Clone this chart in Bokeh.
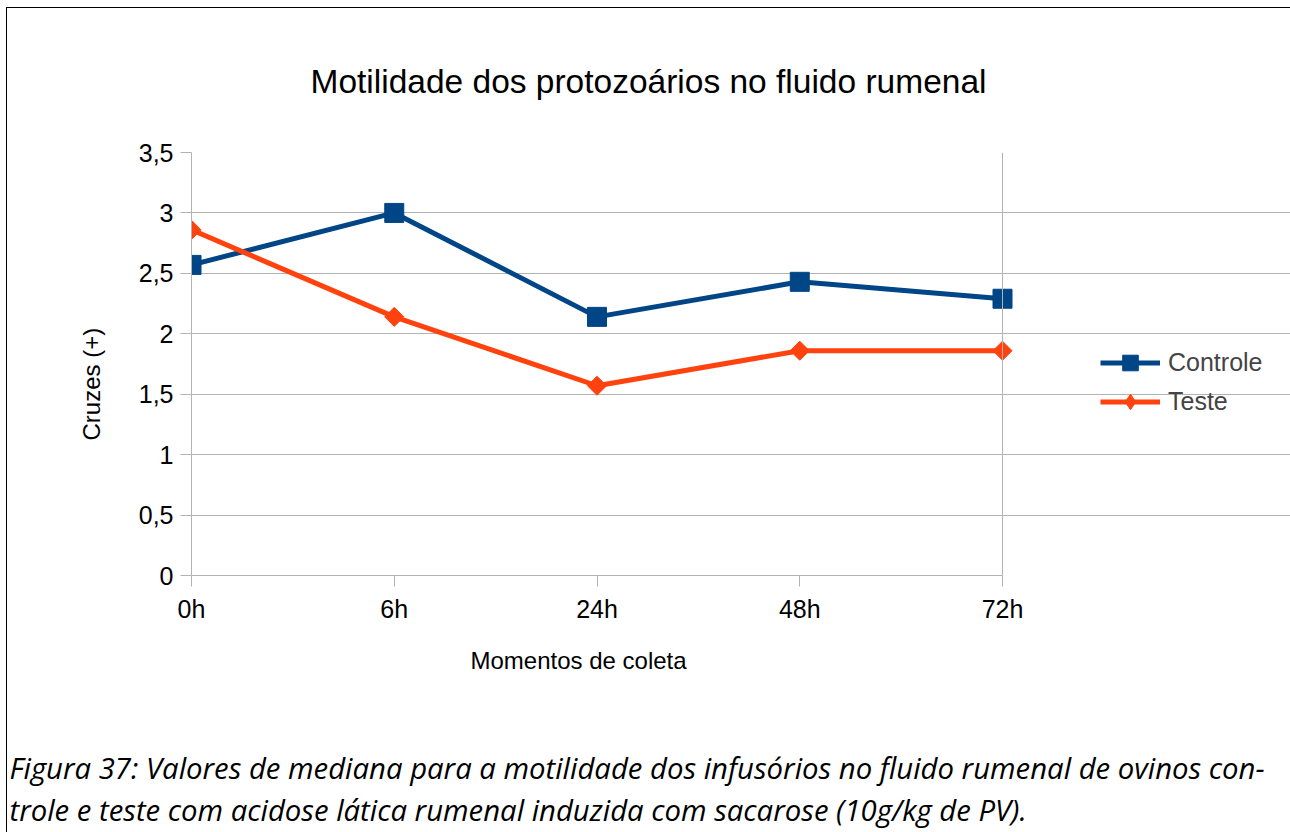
import numpy as np
from bokeh.plotting import figure
from bokeh.models import Range1d, Legend, LegendItem, FixedTicker, Title, Span
from bokeh.embed import file_html
from bokeh.resources import INLINE

categories = ["0h", "6h", "24h", "48h", "72h"]
controle = [2.57, 3.0, 2.14, 2.43, 2.29]
teste = [2.86, 2.14, 1.57, 1.86, 1.86]
y_ticks = [0.0, 0.5, 1.0, 1.5, 2.0, 2.5, 3.0, 3.5]
y_tick_labels = ["0", "0,5", "1", "1,5", "2", "2,5", "3", "3,5"]

title_text = "Motilidade dos protozoários no fluido rumenal"
x_label = "Momentos de coleta"
y_label = "Cruzes (+)"
caption_1 = "Figura 37: Valores de mediana para a motilidade dos infusórios no fluido rumenal de ovinos con-"
caption_2 = "trole e teste com acidose lática rumenal induzida com sacarose (10g/kg de PV)."

FONT = "Liberation Sans"
BLUE = "#004586"
ORANGE = "#ff420e"
GRAY = "#b3b3b3"

xs = list(range(len(categories)))
x_last = len(categories) - 1

# The plot frame runs to the right edge of the canvas so that the legend
# (drawn inside the frame) is not clipped; the data area itself ends at 72h.
W, H = 1290, 832
LEFT, TOP, BOTTOM = 191, 152, 257
DATA_W = 811
x_end = x_last * (W - LEFT) / DATA_W

p = figure(width=W, height=H,
           x_range=Range1d(0, x_end), y_range=Range1d(0, 3.5),
           output_backend="svg", toolbar_location=None,
           min_border_left=LEFT, min_border_right=0,
           min_border_top=TOP, min_border_bottom=BOTTOM)
p.border_fill_color = None
p.background_fill_color = "#ffffff"
p.styles = {
    "background": "linear-gradient(#000,#000) 6px 7px / 1px calc(100% - 7px) no-repeat, "
                  "linear-gradient(#000,#000) 6px 7px / calc(100% - 6px) 1px no-repeat, #ffffff"
}

p.outline_line_color = None
p.xgrid.visible = False
p.ygrid.grid_line_color = GRAY
p.ygrid.grid_line_width = 1
p.ygrid.bounds = (0, x_last)
p.add_layout(Span(location=x_last, dimension="height", line_color=GRAY, line_width=1))

p.xaxis.ticker = FixedTicker(ticks=xs)
p.xaxis.major_label_overrides = {i: c for i, c in zip(xs, categories)}
p.xaxis.bounds = (0, x_last)
p.yaxis.ticker = FixedTicker(ticks=y_ticks)
p.yaxis.major_label_overrides = {t: l for t, l in zip(y_ticks, y_tick_labels)}
for ax in (p.xaxis, p.yaxis):
    ax.axis_line_color = GRAY
    ax.major_tick_line_color = GRAY
    ax.minor_tick_line_color = None
    ax.major_tick_in = 0
    ax.major_tick_out = 11
    ax.major_label_text_font = FONT
    ax.major_label_text_font_size = "25px"
    ax.major_label_text_color = "#000000"
p.xaxis.major_label_standoff = 8
p.yaxis.major_label_standoff = 7

l1 = p.line(xs, controle, line_color=BLUE, line_width=5)
m1 = p.scatter(xs, controle, marker="square", size=19, fill_color=BLUE, line_color=BLUE)
l2 = p.line(xs, teste, line_color=ORANGE, line_width=5)
m2 = p.scatter(xs, teste, marker="square", angle=np.pi / 4, size=13.5,
               fill_color=ORANGE, line_color=ORANGE)
# legend key for the diamond marker (NaN point: nothing drawn in the chart)
m2_key = p.scatter([np.nan], [np.nan], marker="diamond", size=13,
                   fill_color=ORANGE, line_color=ORANGE)

legend = Legend(items=[LegendItem(label="Controle", renderers=[l1, m1]),
                       LegendItem(label="Teste", renderers=[l2, m2_key])],
                location=(909, 154), padding=0, margin=0, spacing=0,
                glyph_width=60, glyph_height=39, label_height=30,
                label_standoff=8, label_text_font=FONT,
                label_text_font_size="25px", label_text_baseline="middle",
                border_line_color=None, background_fill_alpha=0)
p.add_layout(legend, "center")

# chart title
p.title.text = title_text
p.title.align = "left"
p.title.offset = 119
p.title.standoff = 105
p.title.text_font = FONT
p.title.text_font_size = "33.5px"
p.title.text_font_style = "normal"
p.title.text_color = "#000000"

# y axis label (left panel, outside the axis)
p.add_layout(Title(text=y_label, align="left", offset=135, standoff=62,
                   text_font=FONT, text_font_size="24px",
                   text_font_style="normal", text_color="#000000"), "left")

# x axis label, a gap, and the figure caption (below panel, stacked outward)
p.add_layout(Title(text=x_label, align="left", offset=279, standoff=38,
                   text_font=FONT, text_font_size="24px",
                   text_font_style="normal", text_color="#000000"), "below")
p.add_layout(Title(text=" ", standoff=50, text_font_size="1px"), "below")
p.add_layout(Title(text=caption_1 + "\n" + caption_2, align="left", offset=-182,
                   standoff=0, text_font="Open Sans", text_font_size="29.3px",
                   text_font_style="italic", text_line_height=1.07,
                   text_color="#000000"), "below")

open("out.html", "w").write(file_html(p, INLINE))
